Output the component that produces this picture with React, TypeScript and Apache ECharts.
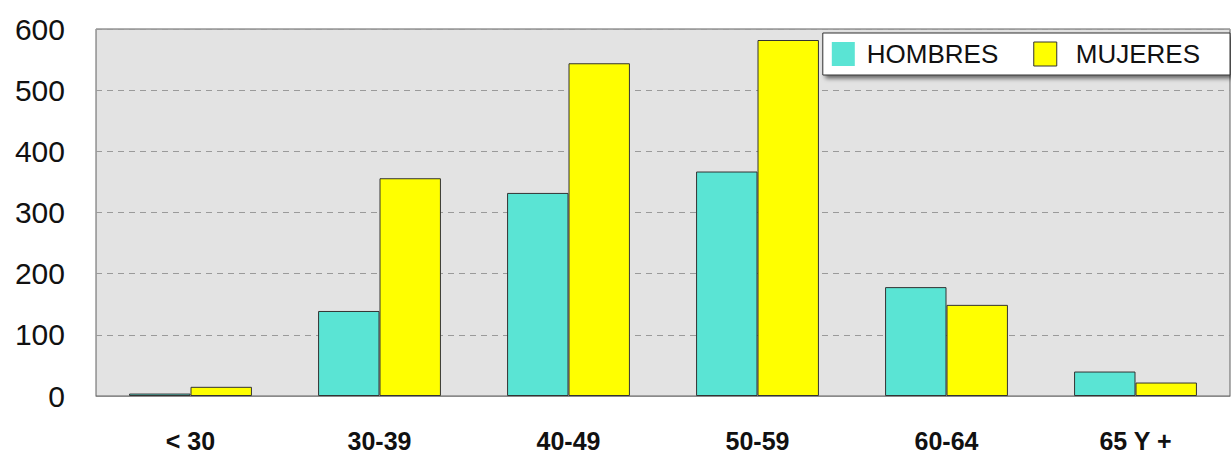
import React, { useEffect, useRef } from "react";
import * as echarts from "echarts";

const categories = ["< 30", "30-39", "40-49", "50-59", "60-64", "65 Y +"];
const hombres = [4, 139, 332, 367, 178, 40];
const mujeres = [15, 356, 544, 582, 149, 22];
const yTicks = { min: 0, max: 600, interval: 100 };

export default function App() {
  const ref = useRef<HTMLDivElement>(null);
  useEffect(() => {
    if (!ref.current) return;
    const chart = echarts.init(ref.current, null, { renderer: "svg" });
    const font = "'Liberation Sans', Arial, sans-serif";
    chart.setOption({
      animation: false,
      backgroundColor: "#ffffff",
      grid: {
        left: 96,
        top: 29,
        right: 1,
        bottom: 55,
        show: true,
        backgroundColor: "#e3e3e3",
        borderColor: "#606060",
        borderWidth: 1,
      },
      legend: {
        top: 33,
        right: 1,
        orient: "horizontal",
        backgroundColor: "#ffffff",
        borderColor: "#333333",
        borderWidth: 1,
        shadowColor: "rgba(0,0,0,0.55)",
        shadowBlur: 4,
        shadowOffsetX: 3,
        shadowOffsetY: 3,
        padding: [8, 30, 8, 9],
        itemWidth: 23,
        itemHeight: 24,
        itemGap: 35,
        icon: "rect",
        textStyle: {
          fontFamily: font,
          fontSize: 26,
          color: "#111111",
          padding: [0, 0, 0, 7],
        },
        data: [
          { name: "HOMBRES", itemStyle: { borderWidth: 0 } },
          {
            name: "MUJERES",
            itemStyle: { borderWidth: 1, borderColor: "#333" },
            textStyle: { padding: [0, 0, 0, 14] },
          },
        ],
      },
      xAxis: {
        type: "category",
        data: categories,
        axisLine: { show: true, lineStyle: { color: "#8a8a8a", width: 1 } },
        axisTick: { show: false },
        axisLabel: {
          fontFamily: font,
          fontSize: 25,
          fontWeight: "bold",
          color: "#111111",
          margin: 32,
        },
        splitLine: { show: false },
      },
      yAxis: {
        type: "value",
        min: yTicks.min,
        max: yTicks.max,
        interval: yTicks.interval,
        axisLine: { show: false },
        axisTick: { show: false },
        axisLabel: {
          fontFamily: font,
          fontSize: 30,
          color: "#111111",
          margin: 31,
        },
        splitLine: {
          show: true,
          lineStyle: { color: "#9a9a9a", type: [6, 5], width: 1 },
        },
      },
      series: [
        {
          name: "HOMBRES",
          type: "bar",
          data: hombres,
          barGap: "0%",
          barCategoryGap: "35%",
          itemStyle: { color: "#5ae4d4", borderColor: "#333333", borderWidth: 1 },
        },
        {
          name: "MUJERES",
          type: "bar",
          data: mujeres,
          barGap: "0%",
          barCategoryGap: "35%",
          itemStyle: { color: "#ffff00", borderColor: "#333333", borderWidth: 1 },
        },
      ],
    });
    return () => chart.dispose();
  }, []);
  return (
    <div
      ref={ref}
      style={{ position: "absolute", left: 0, top: 0, width: 1231, height: 453 }}
    />
  );
}
